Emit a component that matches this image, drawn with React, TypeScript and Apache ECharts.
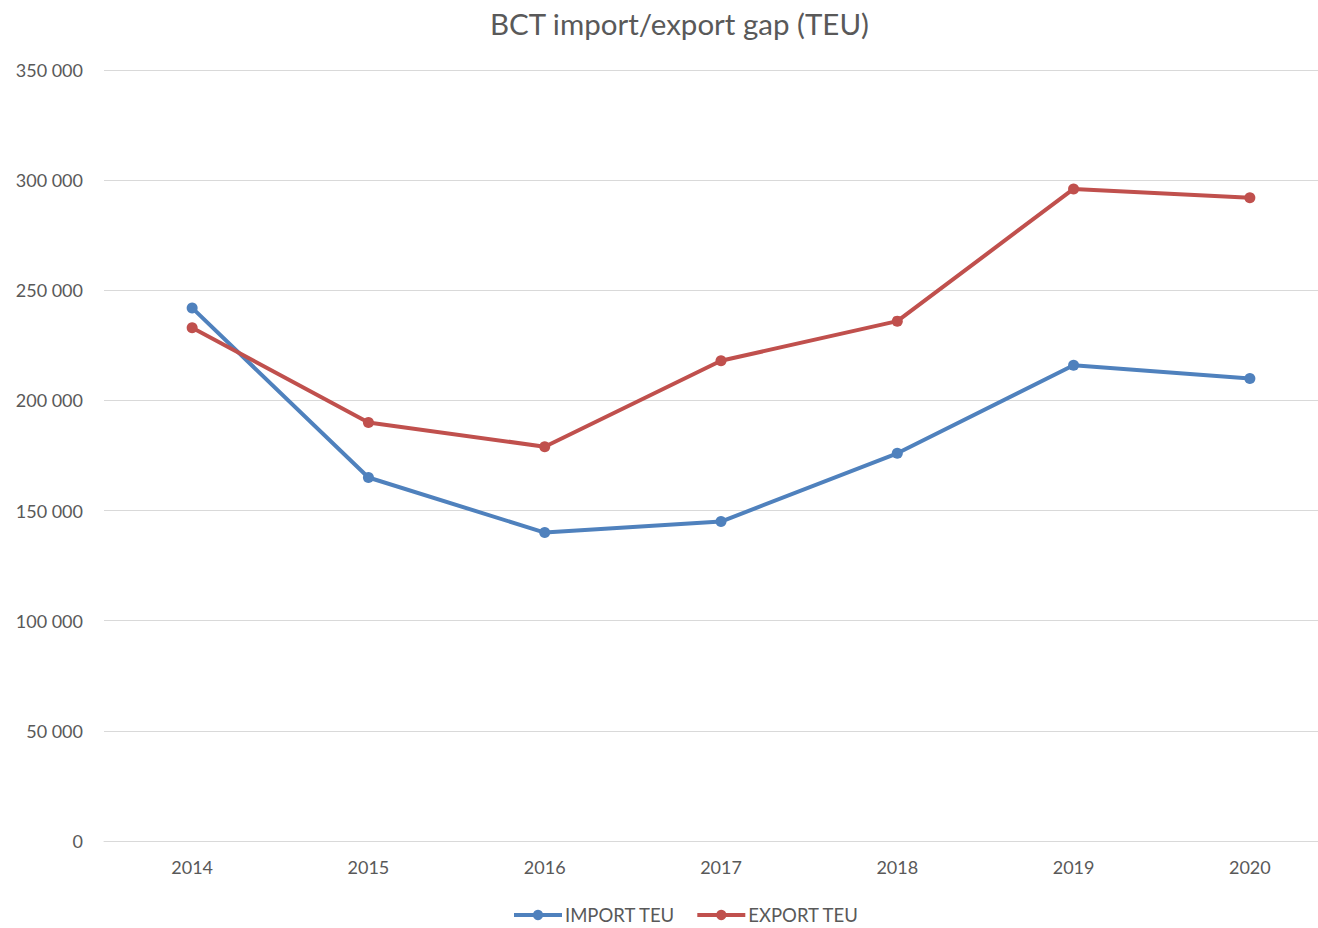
import React, { useEffect, useRef } from "react";
import * as echarts from "echarts";

const years = ["2014", "2015", "2016", "2017", "2018", "2019", "2020"];
const importTeu = [242000, 165000, 140000, 145000, 176000, 216000, 210000];
const exportTeu = [233000, 190000, 179000, 218000, 236000, 296000, 292000];

const FONT = "Lato, 'Open Sans', sans-serif";

export default function App() {
  const ref = useRef<HTMLDivElement>(null);
  useEffect(() => {
    const chart = echarts.init(ref.current!, null, { renderer: "svg" });
    chart.setOption({
      animation: false,
      backgroundColor: "#ffffff",
      title: {
        text: "BCT import/export gap (TEU)",
        left: 485,
        top: 3,
        textStyle: { fontFamily: FONT, fontSize: 29.5, fontWeight: "normal", color: "#595959" },
      },
      legend: {
        left: 512,
        top: 904,
        padding: 0,
        itemWidth: 48,
        itemHeight: 13,
        itemGap: 20,
        lineStyle: { width: 4 },
        textStyle: { fontFamily: FONT, fontSize: 18.5, lineHeight: 22, color: "#595959", padding: [0, 0, 0, -2] },
        data: ["IMPORT TEU", "EXPORT TEU"],
      },
      grid: { left: 104, right: 0, top: 70, bottom: 87 },
      xAxis: {
        type: "category",
        data: years,
        boundaryGap: true,
        axisLine: { show: true, lineStyle: { color: "#d9d9d9", width: 1 } },
        axisTick: { show: false },
        axisLabel: { fontFamily: FONT, fontSize: 18, color: "#595959", margin: 17 },
      },
      yAxis: {
        type: "value",
        min: 0,
        max: 350000,
        interval: 50000,
        axisLine: { show: false },
        axisTick: { show: false },
        splitLine: { lineStyle: { color: "#d9d9d9", width: 1 } },
        axisLabel: {
          fontFamily: FONT,
          fontSize: 18,
          color: "#595959",
          margin: 21,
          formatter: (v: number) => (v === 0 ? "0" : `${Math.floor(v / 1000)} ${String(v % 1000).padStart(3, "0")}`),
        },
      },
      series: [
        {
          name: "IMPORT TEU",
          type: "line",
          data: importTeu,
          symbol: "circle",
          symbolSize: 11,
          lineStyle: { width: 4, color: "#4f81bd" },
          itemStyle: { color: "#4f81bd" },
        },
        {
          name: "EXPORT TEU",
          type: "line",
          data: exportTeu,
          symbol: "circle",
          symbolSize: 11,
          lineStyle: { width: 4, color: "#c0504d" },
          itemStyle: { color: "#c0504d" },
        },
      ],
    });
    return () => chart.dispose();
  }, []);
  return (
    <div style={{ position: "absolute", left: 0, top: 0, width: 1318, height: 928, overflow: "hidden" }}>
      <div ref={ref} style={{ width: 1338, height: 928 }} />
    </div>
  );
}
